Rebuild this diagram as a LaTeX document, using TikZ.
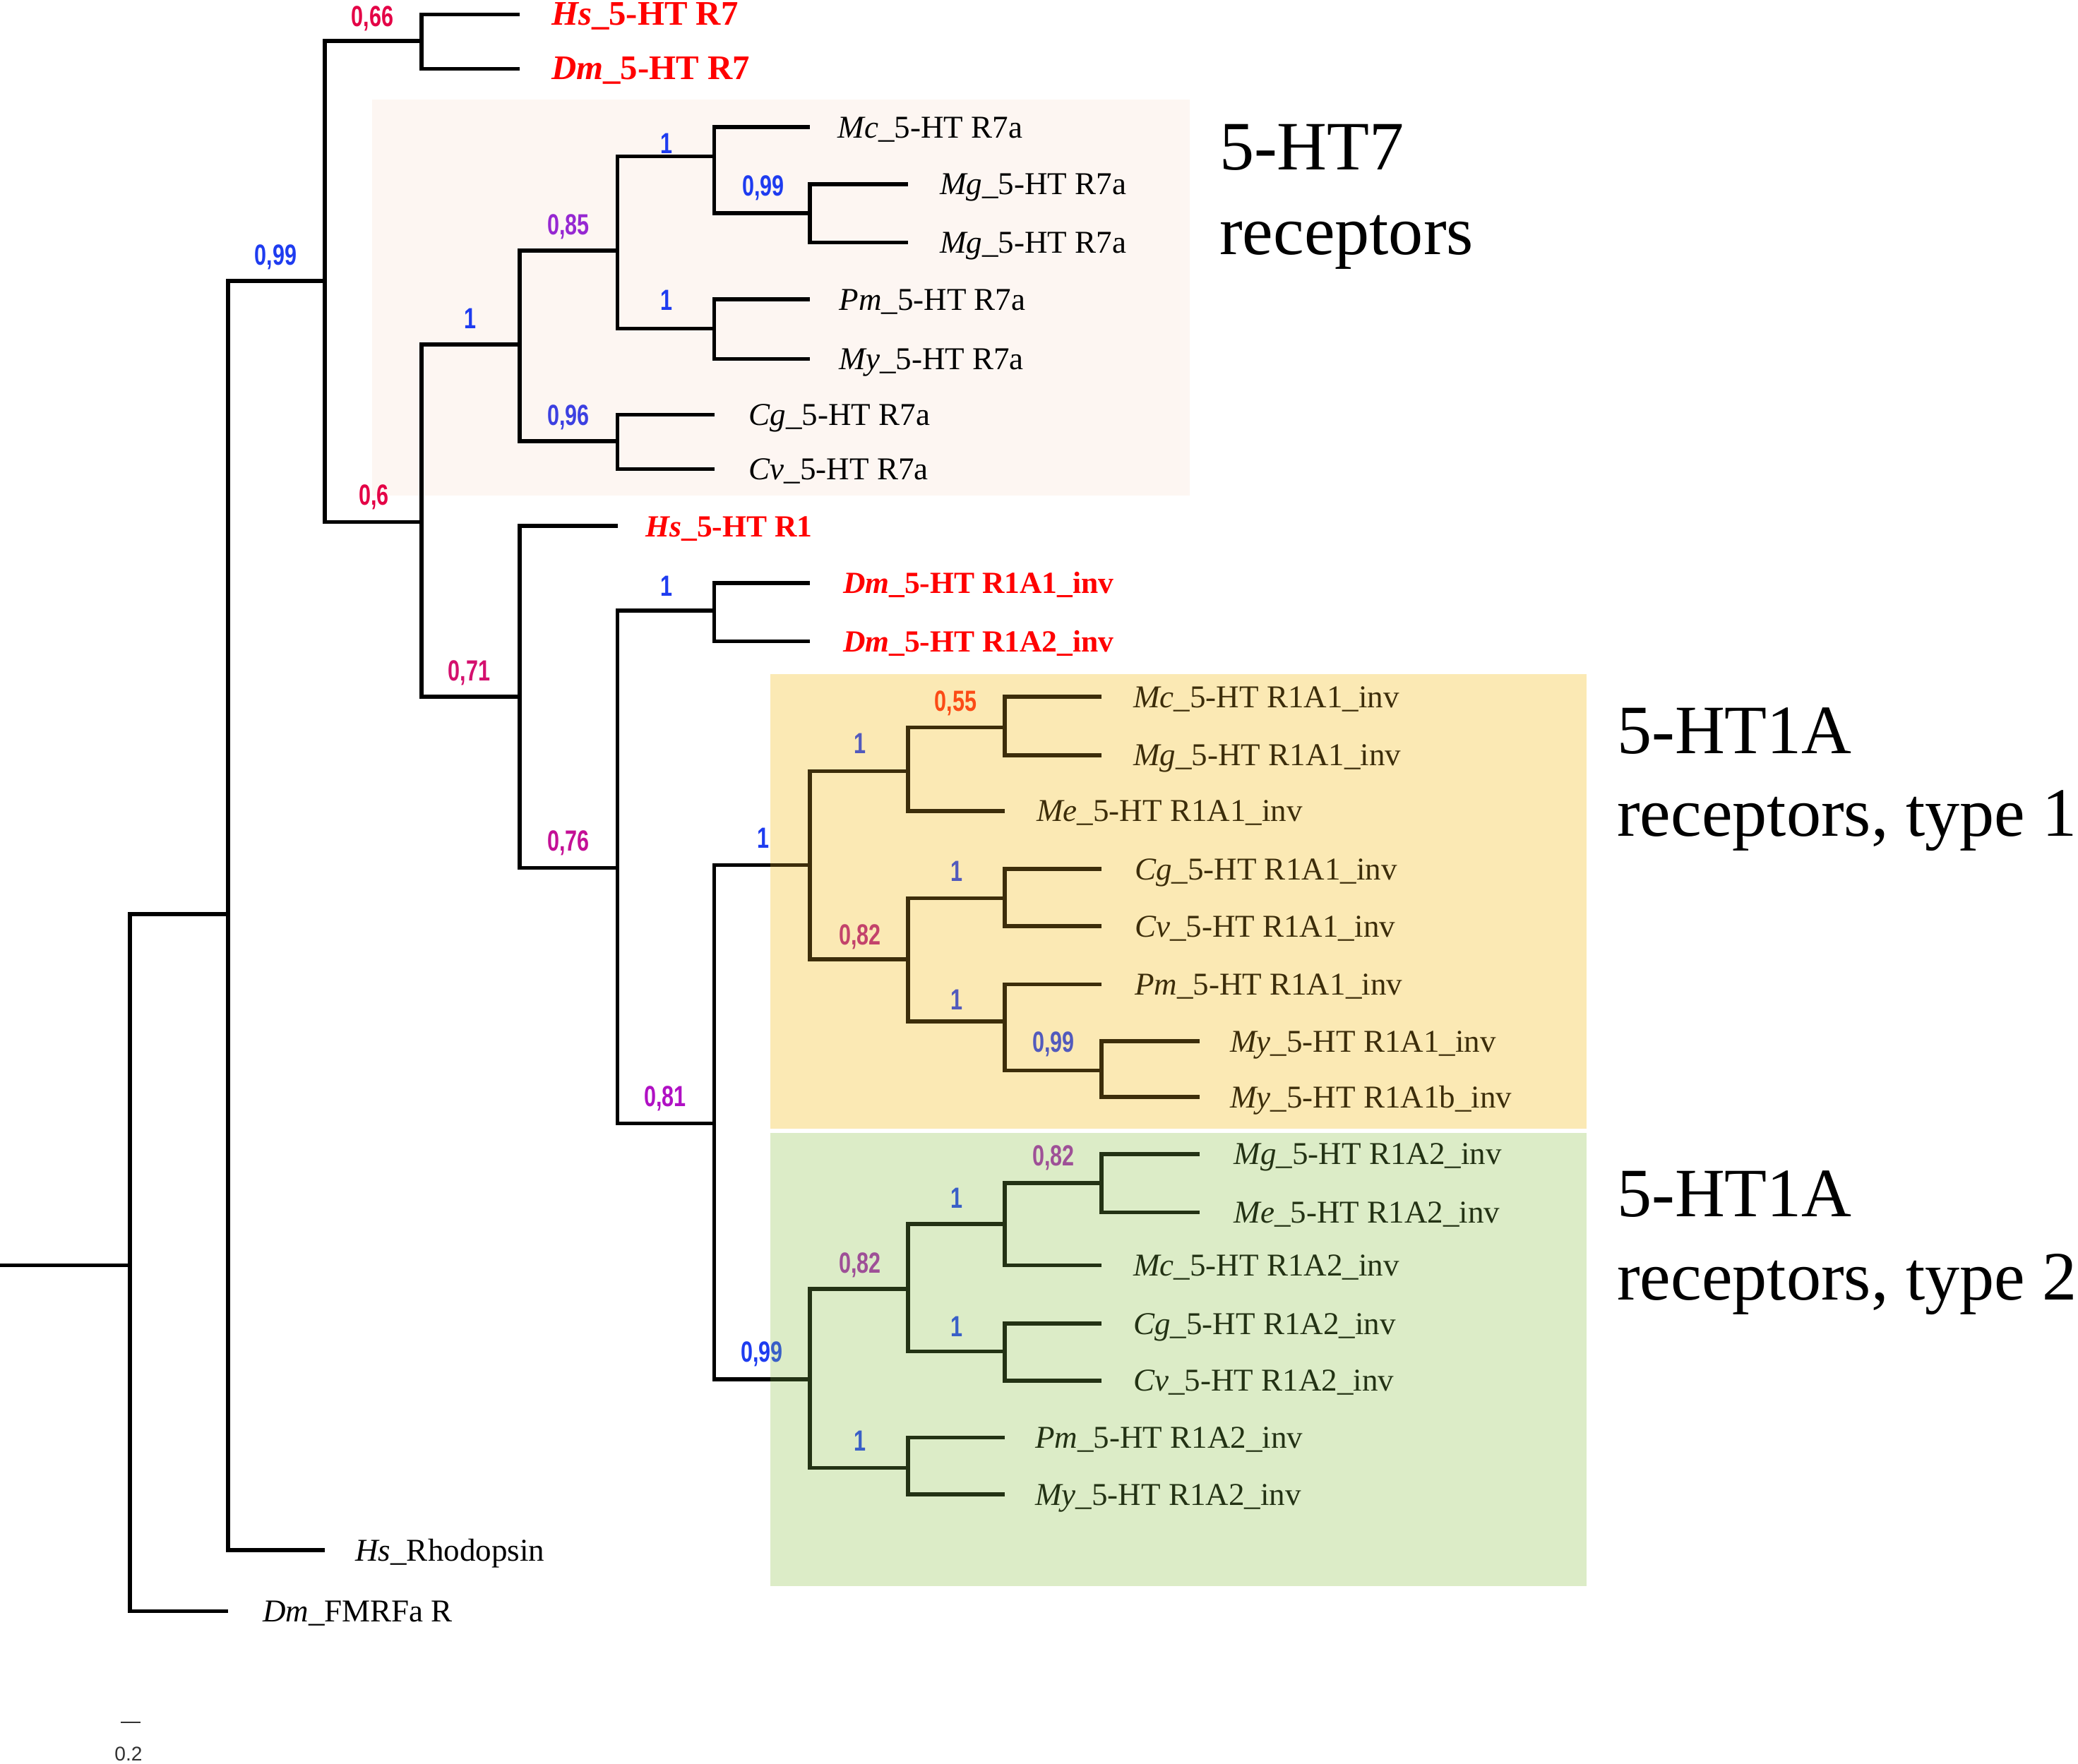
\documentclass[tikz,border=0pt]{standalone}
\usepackage{fontspec}
\usepackage{graphicx}
\setmainfont{Liberation Serif}
\newfontfamily\bsfont{Liberation Sans}
\definecolor{pinkbox}{RGB}{253,246,242}
\definecolor{orangebase}{RGB}{255,251,227}
\definecolor{orangeover}{RGB}{240,180,40}
\definecolor{greenbase}{RGB}{248,249,240}
\definecolor{greenover}{RGB}{140,200,80}
\definecolor{labred}{RGB}{255,0,0}
\definecolor{bblue}{RGB}{30,60,240}
\definecolor{bcrimson}{RGB}{228,0,70}
\definecolor{bcrmag}{RGB}{212,16,110}
\definecolor{bmag}{RGB}{196,16,150}
\definecolor{bpurmag}{RGB}{176,16,196}
\definecolor{bpurple}{RGB}{150,40,210}
\definecolor{bviolet}{RGB}{60,64,225}
\definecolor{bred}{RGB}{255,40,16}
\definecolor{bmag2}{RGB}{180,30,130}
\definecolor{bpur2}{RGB}{165,40,175}
\definecolor{scalegray}{RGB}{50,50,50}
\begin{document}
\begin{tikzpicture}[x=1pt,y=-1pt,
  br/.style={line width=3pt, black},
  lf/.style={anchor=base west, inner sep=0pt, font=\fontsize{24}{28}\selectfont},
  lfred/.style={anchor=base west, inner sep=0pt, text=labred, font=\fontsize{23.2}{28}\selectfont\bfseries},
  lftop/.style={anchor=base west, inner sep=0pt, text=labred, font=\fontsize{26}{30}\selectfont\bfseries},
  bs/.style={anchor=base, inner sep=0pt, font=\bsfont\bfseries\fontsize{22}{22}\selectfont},
  big/.style={anchor=base west, inner sep=0pt, font=\fontsize{52.3}{60}\selectfont}]
\newcommand{\bsv}[1]{\scalebox{0.74}[1]{#1}}
\useasboundingbox (0,0) rectangle (1568,1331);
\fill[white] (0,0) rectangle (1568,1331);
% background boxes
\fill[pinkbox] (281,75) rectangle (898,374);
\fill[orangebase] (581,509) rectangle (1197,852);
\fill[greenbase] (581,855) rectangle (1197,1197);
% coordinates
\coordinate (S0) at (0,955);
\coordinate (R) at (98,955);
\coordinate (n1) at (172,690);
\coordinate (lFM) at (172,1216);
\coordinate (n2) at (245,212);
\coordinate (lRh) at (245,1170);
\coordinate (n3) at (318,31);
\coordinate (lHs7) at (392,11);
\coordinate (lDm7) at (392,52);
\coordinate (n4) at (318,394);
\coordinate (n5) at (392,260);
\coordinate (n6) at (466,189);
\coordinate (n7) at (539,118);
\coordinate (lMcR7) at (611,96);
\coordinate (n8) at (611,161);
\coordinate (lMg1) at (685,139);
\coordinate (lMg2) at (685,183);
\coordinate (n9) at (539,248);
\coordinate (lPm7) at (611,226);
\coordinate (lMy7) at (611,271);
\coordinate (n10) at (466,333);
\coordinate (lCg7) at (539,313);
\coordinate (lCv7) at (539,354);
\coordinate (n11) at (392,526);
\coordinate (lHsR1) at (466,397);
\coordinate (n12) at (466,655);
\coordinate (n13) at (539,461);
\coordinate (lDmA1) at (611,440);
\coordinate (lDmA2) at (611,484);
\coordinate (n14) at (539,848);
\coordinate (n15) at (611,653);
\coordinate (n16) at (685,582);
\coordinate (n17) at (758,549);
\coordinate (lMcA1) at (831,526);
\coordinate (lMgA1) at (831,570);
\coordinate (lMeA1) at (758,612);
\coordinate (n18) at (685,724);
\coordinate (n19) at (758,678);
\coordinate (lCgA1) at (831,656);
\coordinate (lCvA1) at (831,699);
\coordinate (n20) at (758,771);
\coordinate (lPmA1) at (831,743);
\coordinate (n21) at (831,808);
\coordinate (lMyA1) at (905,786);
\coordinate (lMyA1b) at (905,828);
\coordinate (n22) at (611,1041);
\coordinate (n23) at (685,973);
\coordinate (n24) at (758,924);
\coordinate (n25) at (831,893);
\coordinate (lMgA2) at (905,871);
\coordinate (lMeA2) at (905,915);
\coordinate (lMcA2) at (831,955);
\coordinate (n26) at (758,1020);
\coordinate (lCgA2) at (831,999);
\coordinate (lCvA2) at (831,1042);
\coordinate (n27) at (685,1108);
\coordinate (lPmA2) at (758,1085);
\coordinate (lMyA2) at (758,1128);
% branches
\draw[br] (S0) -- (R);
\draw[br] (R) |- (n1);
\draw[br] (R) |- (lFM);
\draw[br] (n1) |- (n2);
\draw[br] (n1) |- (lRh);
\draw[br] (n2) |- (n3);
\draw[br] (n2) |- (n4);
\draw[br] (n3) |- (lHs7);
\draw[br] (n3) |- (lDm7);
\draw[br] (n4) |- (n5);
\draw[br] (n4) |- (n11);
\draw[br] (n5) |- (n6);
\draw[br] (n5) |- (n10);
\draw[br] (n6) |- (n7);
\draw[br] (n6) |- (n9);
\draw[br] (n7) |- (lMcR7);
\draw[br] (n7) |- (n8);
\draw[br] (n8) |- (lMg1);
\draw[br] (n8) |- (lMg2);
\draw[br] (n9) |- (lPm7);
\draw[br] (n9) |- (lMy7);
\draw[br] (n10) |- (lCg7);
\draw[br] (n10) |- (lCv7);
\draw[br] (n11) |- (lHsR1);
\draw[br] (n11) |- (n12);
\draw[br] (n12) |- (n13);
\draw[br] (n12) |- (n14);
\draw[br] (n13) |- (lDmA1);
\draw[br] (n13) |- (lDmA2);
\draw[br] (n14) |- (n15);
\draw[br] (n14) |- (n22);
\draw[br] (n15) |- (n16);
\draw[br] (n15) |- (n18);
\draw[br] (n16) |- (n17);
\draw[br] (n16) |- (lMeA1);
\draw[br] (n17) |- (lMcA1);
\draw[br] (n17) |- (lMgA1);
\draw[br] (n18) |- (n19);
\draw[br] (n18) |- (n20);
\draw[br] (n19) |- (lCgA1);
\draw[br] (n19) |- (lCvA1);
\draw[br] (n20) |- (lPmA1);
\draw[br] (n20) |- (n21);
\draw[br] (n21) |- (lMyA1);
\draw[br] (n21) |- (lMyA1b);
\draw[br] (n22) |- (n23);
\draw[br] (n22) |- (n27);
\draw[br] (n23) |- (n24);
\draw[br] (n23) |- (n26);
\draw[br] (n24) |- (n25);
\draw[br] (n24) |- (lMcA2);
\draw[br] (n25) |- (lMgA2);
\draw[br] (n25) |- (lMeA2);
\draw[br] (n26) |- (lCgA2);
\draw[br] (n26) |- (lCvA2);
\draw[br] (n27) |- (lPmA2);
\draw[br] (n27) |- (lMyA2);
% leaf labels
\node[lftop] (tHs7) at (416,19) {\textit{Hs}\_5-HT R7};
\node[lftop] (tDm7) at (416,60) {\textit{Dm}\_5-HT R7};
\node[lf] (tMcR7) at (632,104) {\textit{Mc}\_5-HT R7a};
\node[lf] (tMg1) at (709,147) {\textit{Mg}\_5-HT R7a};
\node[lf] (tMg2) at (709,191) {\textit{Mg}\_5-HT R7a};
\node[lf] (tPm7) at (633,234) {\textit{Pm}\_5-HT R7a};
\node[lf] (tMy7) at (633,279) {\textit{My}\_5-HT R7a};
\node[lf] (tCg7) at (565,321) {\textit{Cg}\_5-HT R7a};
\node[lf] (tCv7) at (565,362) {\textit{Cv}\_5-HT R7a};
\node[lfred] (tHsR1) at (487,405) {\textit{Hs}\_5-HT R1};
\node[lfred] (tDmA1) at (636,448) {\textit{Dm}\_5-HT R1A1\_inv};
\node[lfred] (tDmA2) at (636,492) {\textit{Dm}\_5-HT R1A2\_inv};
\node[lf] (tMcA1) at (855,534) {\textit{Mc}\_5-HT R1A1\_inv};
\node[lf] (tMgA1) at (855,578) {\textit{Mg}\_5-HT R1A1\_inv};
\node[lf] (tMeA1) at (782,620) {\textit{Me}\_5-HT R1A1\_inv};
\node[lf] (tCgA1) at (856,664) {\textit{Cg}\_5-HT R1A1\_inv};
\node[lf] (tCvA1) at (856,707) {\textit{Cv}\_5-HT R1A1\_inv};
\node[lf] (tPmA1) at (856,751) {\textit{Pm}\_5-HT R1A1\_inv};
\node[lf] (tMyA1) at (928,794) {\textit{My}\_5-HT R1A1\_inv};
\node[lf] (tMyA1b) at (928,836) {\textit{My}\_5-HT R1A1b\_inv};
\node[lf] (tMgA2) at (931,879) {\textit{Mg}\_5-HT R1A2\_inv};
\node[lf] (tMeA2) at (931,923) {\textit{Me}\_5-HT R1A2\_inv};
\node[lf] (tMcA2) at (855,963) {\textit{Mc}\_5-HT R1A2\_inv};
\node[lf] (tCgA2) at (855,1007) {\textit{Cg}\_5-HT R1A2\_inv};
\node[lf] (tCvA2) at (855,1050) {\textit{Cv}\_5-HT R1A2\_inv};
\node[lf] (tPmA2) at (781,1093) {\textit{Pm}\_5-HT R1A2\_inv};
\node[lf] (tMyA2) at (781,1136) {\textit{My}\_5-HT R1A2\_inv};
\node[lf] (tRh) at (268,1178) {\textit{Hs}\_Rhodopsin};
\node[lf] (tFM) at (198,1224) {\textit{Dm}\_FMRFa R};
% bootstrap values
\node[bs,text=bcrimson] (b1) at (281,20) {\bsv{0,66}};
\node[bs,text=bblue] (b2) at (208,200) {\bsv{0,99}};
\node[bs,text=bcrimson] (b3) at (282,381) {\bsv{0,6}};
\node[bs,text=bblue] (b4) at (355,248) {\bsv{1}};
\node[bs,text=bpurple] (b5) at (429,177) {\bsv{0,85}};
\node[bs,text=bviolet] (b6) at (429,321) {\bsv{0,96}};
\node[bs,text=bblue] (b7) at (503,116) {\bsv{1}};
\node[bs,text=bblue] (b8) at (576,148) {\bsv{0,99}};
\node[bs,text=bblue] (b9) at (503,234) {\bsv{1}};
\node[bs,text=bcrmag] (b10) at (354,514) {\bsv{0,71}};
\node[bs,text=bmag] (b11) at (429,642) {\bsv{0,76}};
\node[bs,text=bblue] (b12) at (503,450) {\bsv{1}};
\node[bs,text=bpurmag] (b13) at (502,835) {\bsv{0,81}};
\node[bs,text=bblue] (b14) at (576,640) {\bsv{1}};
\node[bs,text=bblue] (b15) at (649,569) {\bsv{1}};
\node[bs,text=bred] (b16) at (721,537) {\bsv{0,55}};
\node[bs,text=bmag2] (b17) at (649,713) {\bsv{0,82}};
\node[bs,text=bblue] (b18) at (722,665) {\bsv{1}};
\node[bs,text=bblue] (b19) at (722,762) {\bsv{1}};
\node[bs,text=bblue] (b20) at (795,794) {\bsv{0,99}};
\node[bs,text=bpur2] (b21) at (795,880) {\bsv{0,82}};
\node[bs,text=bblue] (b22) at (722,912) {\bsv{1}};
\node[bs,text=bpur2] (b23) at (649,961) {\bsv{0,82}};
\node[bs,text=bblue] (b24) at (722,1009) {\bsv{1}};
\node[bs,text=bblue] (b25) at (575,1028) {\bsv{0,99}};
\node[bs,text=bblue] (b26) at (649,1095) {\bsv{1}};
% tint overlays
\fill[orangeover, opacity=0.25] (581,509) rectangle (1197,852);
\fill[greenover, opacity=0.25] (581,855) rectangle (1197,1197);
% group labels
\node[big] (g1a) at (920,128) {5-HT7};
\node[big] (g1b) at (920,192) {receptors};
\node[big] (g2a) at (1220,569) {5-HT1A};
\node[big] (g2b) at (1220,631) {receptors, type 1};
\node[big] (g3a) at (1220,918) {5-HT1A};
\node[big] (g3b) at (1220,981) {receptors, type 2};
% scale bar
\coordinate (sb1) at (91,1300);
\coordinate (sb2) at (106,1300);
\draw[line width=1.5pt, scalegray] (sb1) -- (sb2);
\node[anchor=base, inner sep=0pt, text=scalegray, font=\bsfont\fontsize{15}{15}\selectfont] (sbt) at (97,1329) {0.2};
\end{tikzpicture}
\end{document}
